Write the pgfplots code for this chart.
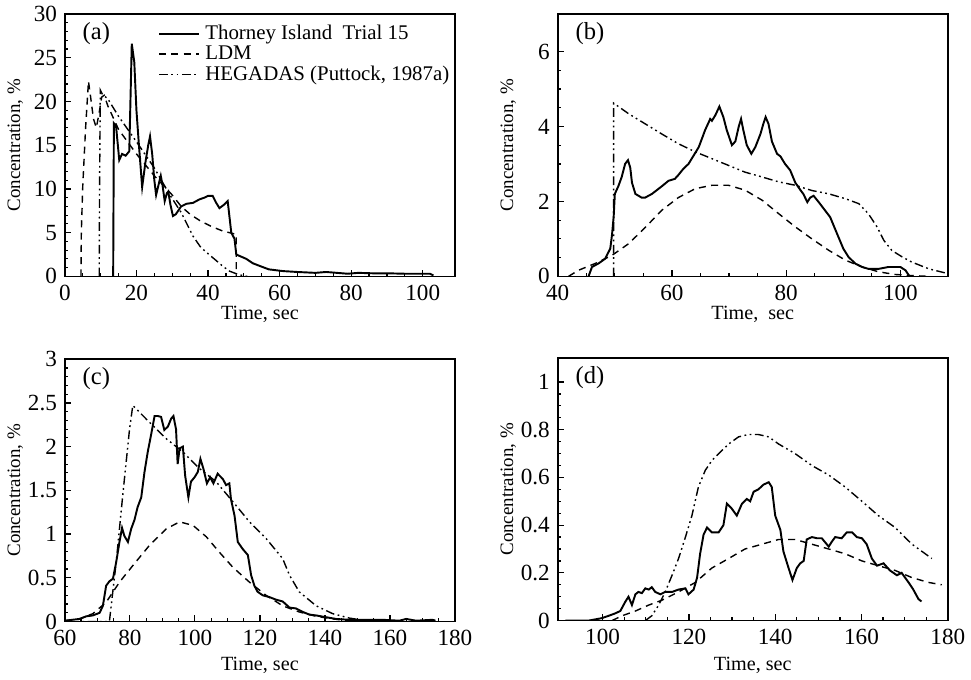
\documentclass[border=0pt]{standalone}
\usepackage{fontspec}
\setmainfont{Liberation Serif}
\usepackage{pgfplots}
\pgfplotsset{compat=1.18}

% line styles of the three series, and the panel letters
\tikzset{
  meas/.style={black, line width=1.1pt},
  ldm/.style={black, line width=0.8pt, dash pattern=on 4pt off 3pt},
  heg/.style={black, line width=0.8pt, dash pattern=on 5pt off 2pt on 1pt off 2pt on 1pt off 2pt},
  lab/.style={anchor=west, font=\fontsize{14}{16}\selectfont},
}
\pgfplotsset{
  panel/.style={
    scale only axis, width=7.82cm, height=5.26cm,
    anchor=south west,
    axis line style={line width=0.9pt},
    tick pos=left, tick align=inside,
    major tick length=0.13cm, minor tick length=0.07cm,
    every tick/.style={black, line width=0.7pt},
    font=\fontsize{11.5}{13}\selectfont,
    tick label style={font=\fontsize{13.2}{15}\selectfont},
    xticklabel style={yshift=-1.5pt},
    yticklabel style={xshift=-1pt},
    /pgf/number format/assume math mode=true,
    /pgf/number format/fixed,
    ylabel={Concentration, \%},
    ylabel style={at={(axis description cs:-0.127,0.5)}, anchor=center,
      font=\fontsize{10.8}{12}\selectfont},
    clip=true,
  },
}

\begin{document}
\begin{tikzpicture}
\path (0,0) rectangle (19.42,13.54);

% ---------------- (a)
\begin{axis}[panel, at={(1.30cm,8.00cm)},
  xmin=0, xmax=109, ymin=0, ymax=30,
  xtick={0,20,...,100}, ytick={0,5,...,30},
  minor x tick num=3, minor y tick num=4,
  xlabel={Time, sec},
  xlabel style={at={(axis description cs:0.5,-0.145)}, anchor=center},
  legend style={at={(0.225,0.985)}, anchor=north west, draw=none, fill=none,
    font=\fontsize{11.9}{14}\selectfont, row sep=-2pt,
    nodes={inner xsep=1pt}, column sep=2pt},
  legend cell align=left,
  legend image code/.code={\draw[#1] (0cm,0cm) -- (0.8cm,0cm);},
]
\addplot[meas] coordinates {
(13.5,0) (13.7,17.5) (14.3,17.2) (15.2,13.3) (16,14) (17,13.8) (18,14.3)
(18.7,26.6) (19.4,24.5) (20,19) (20.7,15) (21.6,10.2) (22.5,13) (23.3,15)
(23.8,16) (24.4,14) (25,11) (25.5,9.3) (26.2,10.5) (26.8,11.5) (27.3,10.4)
(27.9,8.6) (28.5,9.5) (28.9,9.7) (29.5,8.2) (30.2,6.9) (31,7.1) (32.5,8.0)
(34,8.3) (35.8,8.4) (37.6,8.8) (39,9.0) (40,9.2) (41.3,9.2) (42.3,8.4)
(43.2,7.8) (44.5,8.2) (45.5,8.6) (46.5,5.0) (47.4,4.3) (47.9,2.5) (49,2.3)
(50.7,2.0) (52.5,1.5) (54.4,1.2) (57,0.8) (61,0.6) (65,0.5) (70,0.4) (73,0.5)
(76,0.4) (79,0.3) (82,0.4) (86,0.35) (90,0.35) (95,0.3) (100,0.3) (102,0.3)
(103,0.1)
};
\addlegendentry{Thorney Island\ \ Trial 15}
\addplot[ldm] coordinates {
(4.5,0) (4.6,5) (5,10.3) (5.8,17) (6.6,22.3) (7.2,20.5) (8.0,18) (8.8,17)
(9.5,18.5) (10.3,20.5) (11,20.7) (12,19.5) (15,16.8) (20,14) (25,11.5)
(30,9.3) (32.5,8) (35,7.1) (38,6.3) (41,5.7) (44,5.2) (47.9,4.8) (47.9,0)
};
\addlegendentry{LDM}
\addplot[heg] coordinates {
(9.6,0) (9.7,10) (9.9,21.3) (10.5,20.8) (12,20.3) (15,18.3) (20,15.4)
(25,12.4) (29.2,9.4) (32.5,7.3) (35.8,4.6) (38,3.3) (40,2.6) (42.3,1.8)
(44,1.2) (46,0.6) (47.9,0.3) (50,0.05) (51,0)
};
\addlegendentry{HEGADAS (Puttock, 1987a)}
\node[lab] at (rel axis cs:0.03,0.925) {(a)};
\end{axis}

% ---------------- (b)
\begin{axis}[panel, at={(11.18cm,8.00cm)},
  xmin=40, xmax=108.3, ymin=0, ymax=7,
  xtick={40,60,80,100}, ytick={0,2,4,6},
  minor x tick num=3, minor y tick num=3,
  xlabel={Time,\ \ sec},
  xlabel style={at={(axis description cs:0.5,-0.145)}, anchor=center},
]
\addplot[meas] coordinates {
(45.4,0) (46,0.25) (47.2,0.35) (48.3,0.47) (49.2,0.74) (49.5,1.1) (49.8,1.6)
(50,2.2) (50.6,2.4) (51.2,2.65) (51.8,3.0) (52.3,3.1) (52.7,2.9) (53,2.5)
(53.6,2.2) (54.7,2.1) (55.3,2.1) (56.5,2.2) (58.2,2.4) (59.4,2.55) (60.5,2.6)
(61.1,2.7) (62,2.87) (62.9,3.0) (64.1,3.3) (64.7,3.45) (65.8,3.9) (66.7,4.2)
(67,4.15) (67.6,4.3) (68.3,4.53) (69,4.25) (69.6,3.9) (70.5,3.5) (71.1,3.6)
(71.7,4.0) (72.1,4.2) (72.5,3.9) (73.1,3.5) (73.9,3.27) (74.6,3.45) (75.5,3.8)
(76,4.07) (76.4,4.25) (76.9,4.07) (77.5,3.6) (78.4,3.27) (79,3.2) (79.8,3.0)
(80.7,2.83) (81.6,2.5) (82.5,2.3) (83,2.2) (83.7,1.98) (84.2,2.1) (84.8,2.15)
(85.7,1.98) (86.8,1.76) (87.7,1.58) (88.9,1.14) (90,0.74) (90.9,0.52)
(92.1,0.34) (93.3,0.25) (94.4,0.2) (96.2,0.2) (97.9,0.25) (99.1,0.25)
(100,0.25) (100.9,0.16) (101.6,0)
};
\addplot[ldm] coordinates {
(41.9,0) (43.6,0.16) (46.5,0.34) (49.5,0.56) (52.4,0.87) (55.3,1.3)
(58.2,1.76) (61.1,2.1) (64.1,2.34) (67,2.43) (69.9,2.43) (72.8,2.3)
(75.8,2.03) (78.7,1.67) (81.6,1.32) (84.5,1.0) (87.5,0.69) (90.4,0.43)
(93.3,0.25) (96.2,0.12) (99.1,0.05) (102,0.02) (104.9,0)
};
\addplot[heg] coordinates {
(49.8,0) (49.8,4.62) (52.4,4.34) (55.3,4.07) (58.2,3.8) (61.1,3.54)
(64.1,3.32) (67,3.14) (69.9,2.96) (72.8,2.78) (75.8,2.65) (78.7,2.52)
(81.6,2.43) (84.5,2.29) (87.5,2.2) (90.4,2.07) (92.7,1.94) (94.4,1.67)
(95.9,1.32) (97.1,0.96) (98.5,0.69) (100.3,0.52) (102,0.38) (105,0.2)
(107.9,0.09)
};
\node[lab] at (rel axis cs:0.03,0.925) {(b)};
\end{axis}

% ---------------- (c)
\begin{axis}[panel, at={(1.30cm,1.08cm)},
  xmin=60, xmax=180, ymin=0, ymax=3,
  xtick={60,80,...,180}, ytick={0,0.5,...,3},
  minor x tick num=3, minor y tick num=4,
  xlabel={Time, sec},
  xlabel style={at={(axis description cs:0.5,-0.168)}, anchor=center},
]
\addplot[meas] coordinates {
(60,0.01) (64.5,0.03) (66.6,0.06) (68.6,0.07) (70.7,0.1) (71.7,0.18)
(72.7,0.41) (73.7,0.46) (74.8,0.49) (75.8,0.68) (76.8,0.91) (77.6,1.07)
(78.3,0.98) (79.4,0.91) (80.4,1.06) (81.4,1.16) (82.4,1.31) (83.5,1.42)
(84.5,1.71) (85.5,1.94) (86.5,2.13) (87.6,2.35) (88.6,2.35) (89.6,2.34)
(90.6,2.19) (91.7,2.23) (92.7,2.32) (93.4,2.35) (94.2,2.2) (94.7,1.8)
(95.3,1.98) (96.3,2.0) (97,1.67) (98,1.42) (98.8,1.6) (99.9,1.65)
(100.9,1.71) (101.7,1.86) (102.6,1.75) (103.7,1.58) (104.7,1.65)
(105.7,1.58) (107,1.69) (108.6,1.63) (109.6,1.56) (110.6,1.58) (111.1,1.4)
(112.2,1.21) (113.2,0.91) (114.7,0.83) (116.3,0.76) (117.3,0.53)
(118.3,0.41) (119.3,0.34) (120.9,0.3) (122.9,0.28) (125,0.25) (127,0.23)
(129.1,0.16) (131.1,0.15) (133.2,0.11) (135.2,0.08) (137.3,0.07)
(140.3,0.05) (143.4,0.03) (147.5,0.02) (152.6,0.02) (157.8,0.02)
(162.9,0.01) (165,0.03) (168,0.01) (173.1,0.02) (174,0.01)
};
\addplot[ldm] coordinates {
(60,0.01) (64.5,0.03) (68.6,0.09) (72.7,0.22) (76.8,0.45) (80.9,0.64)
(86,0.87) (91.2,1.06) (95.3,1.14) (99.4,1.1) (103.5,0.97) (107.6,0.79)
(111.7,0.62) (116.8,0.45) (121.9,0.3) (127,0.18) (132.1,0.11) (137.3,0.06)
(142.4,0.03) (147.5,0.01)
};
\addplot[heg] coordinates {
(60,0) (73.7,0) (75.8,0.68) (77.8,1.44) (79.9,2.2) (80.9,2.47) (86,2.28)
(91.2,2.09) (96.3,1.94) (101.4,1.75) (106.5,1.6) (111.7,1.37) (116.8,1.14)
(121.9,0.95) (127,0.72) (129.1,0.53) (132.1,0.34) (137.3,0.18) (142.4,0.09)
(147.5,0.04) (152.6,0.01)
};
\node[lab] at (rel axis cs:0.03,0.925) {(c)};
\end{axis}

% ---------------- (d)
\begin{axis}[panel, at={(11.18cm,1.10cm)},
  xmin=89.6, xmax=180, ymin=0, ymax=1.1,
  xtick={100,120,...,180}, ytick={0,0.2,...,1},
  minor x tick num=3, minor y tick num=3,
  xlabel={Time, sec},
  xlabel style={at={(axis description cs:0.5,-0.17)}, anchor=center},
]
\addplot[meas] coordinates {
(91.4,0) (96.8,0) (99.8,0.01) (101.4,0.02) (102.9,0.03) (104.1,0.04)
(105.3,0.08) (106,0.1) (106.8,0.065) (107.6,0.11) (108.3,0.12) (109.1,0.115)
(109.9,0.135) (110.7,0.13) (111.4,0.14) (112.2,0.12) (113.4,0.11)
(114.5,0.12) (116.1,0.12) (117.6,0.13) (119.2,0.135) (119.9,0.11)
(121.1,0.13) (121.9,0.18) (122.6,0.28) (123.4,0.36) (124.2,0.39)
(125.3,0.37) (126.9,0.37) (128,0.4) (128.8,0.49) (129.9,0.47) (131.1,0.44)
(132.3,0.49) (133.4,0.51) (134.2,0.5) (135,0.54) (136.1,0.55) (137.3,0.57)
(138.5,0.58) (139.2,0.56) (140,0.44) (141.2,0.38) (141.9,0.29) (143.1,0.22)
(144,0.17) (145,0.22) (145.8,0.24) (146.6,0.25) (147.3,0.34) (148.5,0.35)
(149.7,0.345) (150.8,0.345) (152.4,0.31) (153.1,0.33) (153.9,0.35)
(155.4,0.345) (156.6,0.37) (157.8,0.37) (158.9,0.35) (160.1,0.345)
(161.2,0.32) (162.4,0.26) (163.6,0.23) (165.1,0.24) (166.6,0.21)
(168.2,0.19) (169.3,0.2) (170.9,0.16) (172,0.13) (173.2,0.09) (173.9,0.08)
};
\addplot[ldm] coordinates {
(102.2,0) (104.5,0.02) (107.6,0.04) (110.7,0.065) (113.7,0.085) (117.6,0.12)
(121.5,0.16) (125.3,0.22) (129.2,0.26) (133,0.3) (136.9,0.32) (140.8,0.34)
(144.6,0.34) (148.5,0.32) (152.4,0.3) (156.2,0.28) (160.1,0.25) (163.9,0.23)
(167.8,0.21) (171.7,0.18) (175.5,0.16) (178.6,0.15)
};
\addplot[heg] coordinates {
(109.9,0) (111.4,0.02) (113,0.065) (114.5,0.12) (116.1,0.19) (117.6,0.26)
(119.2,0.35) (120.7,0.44) (122.2,0.56) (123.8,0.63) (125.3,0.67) (126.9,0.7)
(129.2,0.74) (131.5,0.77) (133.8,0.78) (136.1,0.78) (138.5,0.77) (140.8,0.74)
(144.6,0.7) (148.5,0.65) (152.4,0.61) (156.2,0.56) (160.1,0.5) (163.9,0.44)
(167.8,0.39) (171.7,0.32) (176.3,0.26)
};
\node[lab] at (rel axis cs:0.03,0.925) {(d)};
\end{axis}
\end{tikzpicture}
\end{document}
